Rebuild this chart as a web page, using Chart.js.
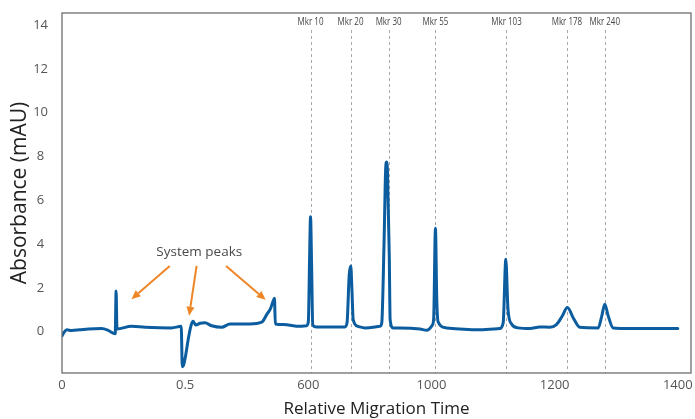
<!DOCTYPE html>
<html>
<head>
<meta charset="utf-8">
<script src="https://cdn.jsdelivr.net/npm/chart.js@4.4.1/dist/chart.umd.min.js"></script>
<style>
    html, body { margin: 0; padding: 0; background: #fff; }
    canvas { display: block; }
</style>
</head>
<body>
<canvas id="trace" width="695" height="419"></canvas>
<script>
// electropherogram trace
const migrationTime = [
    0, 5, 11, 22, 40, 60, 90, 105, 121, 123, 125, 158, 189, 249, 271,
    273.5, 276, 281, 287, 293, 298, 304, 314, 325, 340, 363, 382, 427, 454, 466,
    474, 480, 483, 485, 503, 541, 556, 560, 563, 565, 567.5, 570, 579, 643, 648,
    653, 656.5, 659, 662, 673, 689, 723, 727, 732, 736, 738, 740, 744, 746, 753,
    768, 814, 829, 842, 845, 849, 852, 855, 874, 950, 995, 1003, 1009, 1014, 1022,
    1037, 1064, 1086, 1109, 1124, 1137, 1149, 1163, 1177, 1219, 1227, 1234, 1242, 1253, 1291,
    1400
];
const absorbance = [
    -0.2, -0.02, 0.08, 0.05, 0.08, 0.12, 0.14, 0.06, -0.1, 1.85, 0.12, 0.24, 0.2, 0.17, 0.24,
    -1.6, -1.55, -1.1, -0.35, 0.25, 0.47, 0.3, 0.38, 0.4, 0.27, 0.2, 0.35, 0.35, 0.43, 0.8,
    1.05, 1.4, 1.52, 0.35, 0.32, 0.24, 0.27, 0.45, 3.5, 5.25, 3.0, 0.3, 0.21, 0.21, 0.4,
    2.6, 3.0, 2.0, 0.55, 0.24, 0.17, 0.24, 0.4, 3.9, 7.5, 7.75, 7.3, 3.5, 0.55, 0.17,
    0.17, 0.12, 0.06, 0.3, 0.6, 4.72, 1.5, 0.45, 0.17, 0.09, 0.14, 0.4, 3.3, 1.0, 0.35,
    0.17, 0.14, 0.21, 0.2, 0.32, 0.7, 1.1, 0.6, 0.2, 0.17, 0.7, 1.25, 0.7, 0.17, 0.14,
    0.14
];

// size markers
const markerNames = ['Mkr 10', 'Mkr 20', 'Mkr 30', 'Mkr 55', 'Mkr 103', 'Mkr 178', 'Mkr 240'];
const markerTimes = [565, 656, 742.5, 849, 1010.5, 1148, 1234];

// axis ticks
const xTickValues = [0, 280, 560, 840, 1120, 1400];
const xTickLabels = ['0', '0.5', '600', '1000', '1200', '1400'];
const yTickValues = [0, 2, 4, 6, 8, 10, 12, 14];

// callout for the system peaks
const calloutText = 'System peaks';
const calloutAt = [312, 3.65];
const arrowTails = [[245, 3.0], [306, 3.0], [373, 3.0]];
const arrowTips = [[158, 1.48], [289, 0.72], [463, 1.45]];

const points = migrationTime.map((t, i) => ({ x: t, y: absorbance[i] }));

const overlay = {
    id: 'overlay',
    beforeDatasetsDraw(chart) {
        const { ctx, chartArea: a, scales: { x } } = chart;
        ctx.save();
        ctx.strokeStyle = '#a9a9a9';
        ctx.lineWidth = 1;
        ctx.setLineDash([3, 3]);
        markerTimes.forEach(t => {
            const px = Math.round(x.getPixelForValue(t)) + 0.5;
            ctx.beginPath();
            ctx.moveTo(px, a.top + 17);
            ctx.lineTo(px, a.bottom);
            ctx.stroke();
        });
        ctx.setLineDash([]);
        // narrow labels: squeeze the regular face horizontally
        ctx.fillStyle = '#444';
        ctx.font = '10px "Open Sans", sans-serif';
        ctx.textAlign = 'center';
        ctx.textBaseline = 'middle';
        markerTimes.forEach((t, i) => {
            ctx.save();
            ctx.translate(x.getPixelForValue(t), a.top + 9);
            ctx.scale(0.8, 1);
            ctx.fillText(markerNames[i], 0, 0);
            ctx.restore();
        });
        ctx.restore();
    },
    afterDraw(chart) {
        const { ctx, chartArea: a, scales: { x, y } } = chart;
        ctx.save();
        // plot frame
        ctx.strokeStyle = '#6e6e6e';
        ctx.lineWidth = 1.3;
        ctx.strokeRect(a.left, a.top, a.right - a.left, a.bottom - a.top);

        // callout text + arrows
        ctx.fillStyle = '#4a4a4a';
        ctx.font = '13.5px "Open Sans", sans-serif';
        ctx.textAlign = 'center';
        ctx.textBaseline = 'middle';
        ctx.fillText(calloutText, x.getPixelForValue(calloutAt[0]), y.getPixelForValue(calloutAt[1]));

        ctx.strokeStyle = '#ee8526';
        ctx.fillStyle = '#ee8526';
        ctx.lineWidth = 2;
        arrowTails.forEach((tail, i) => {
            const x0 = x.getPixelForValue(tail[0]), y0 = y.getPixelForValue(tail[1]);
            const x1 = x.getPixelForValue(arrowTips[i][0]), y1 = y.getPixelForValue(arrowTips[i][1]);
            const ang = Math.atan2(y1 - y0, x1 - x0);
            const head = 9, half = 4;
            const bx = x1 - head * Math.cos(ang), by = y1 - head * Math.sin(ang);
            ctx.beginPath();
            ctx.moveTo(x0, y0);
            ctx.lineTo(bx, by);
            ctx.stroke();
            ctx.beginPath();
            ctx.moveTo(x1, y1);
            ctx.lineTo(bx + half * Math.sin(ang), by - half * Math.cos(ang));
            ctx.lineTo(bx - half * Math.sin(ang), by + half * Math.cos(ang));
            ctx.closePath();
            ctx.fill();
        });
        ctx.restore();
    }
};

const tickFont = { family: '"Open Sans", sans-serif', size: 13 };

function noPadding(scale) {
    scale.paddingTop = 0;
    scale.paddingBottom = 0;
    scale.paddingLeft = 0;
    scale.paddingRight = 0;
}

new Chart(document.getElementById('trace'), {
    type: 'line',
    data: {
        datasets: [{
            data: points,
            borderColor: '#0b5d9f',
            borderWidth: 3,
            pointRadius: 0,
            cubicInterpolationMode: 'monotone',
            borderJoinStyle: 'round',
            borderCapStyle: 'round',
            fill: false
        }]
    },
    options: {
        responsive: false,
        animation: false,
        layout: { padding: { top: 13, right: 4, left: 0, bottom: 0 } },
        plugins: { legend: { display: false }, tooltip: { enabled: false } },
        scales: {
            x: {
                type: 'linear',
                min: 0,
                max: 1430,
                grid: { display: false, drawTicks: false },
                border: { display: false },
                afterBuildTicks: scale => { scale.ticks = xTickValues.map(v => ({ value: v })); },
                afterFit: scale => { scale.height = 46; noPadding(scale); },
                ticks: {
                    color: '#555',
                    font: tickFont,
                    padding: 4,
                    maxRotation: 0,
                    callback: (v, i) => xTickLabels[i]
                },
                title: {
                    display: true,
                    text: 'Relative Migration Time',
                    color: '#222',
                    font: { family: '"Open Sans", sans-serif', size: 17 },
                    padding: 0
                }
            },
            y: {
                min: -1.89,
                max: 14.55,
                grid: { display: false, drawTicks: false },
                border: { display: false },
                afterBuildTicks: scale => { scale.ticks = yTickValues.map(v => ({ value: v })); },
                afterFit: scale => { scale.width = 62; noPadding(scale); },
                ticks: {
                    color: '#555',
                    font: tickFont,
                    padding: 14,
                    crossAlign: 'center'
                },
                title: {
                    display: true,
                    text: 'Absorbance (mAU)',
                    color: '#222',
                    font: { family: '"Open Sans", sans-serif', size: 21 },
                    padding: { top: 7, bottom: 0 }
                }
            }
        }
    },
    plugins: [overlay]
});
</script>
</body>
</html>
